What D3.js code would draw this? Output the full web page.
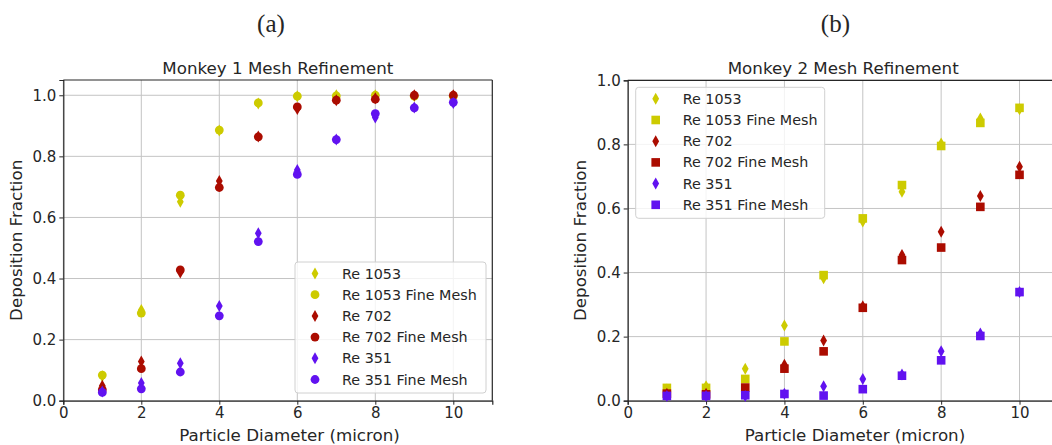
<!DOCTYPE html>
<html>
<head>
<meta charset="utf-8">
<script src="https://cdn.jsdelivr.net/npm/d3@7"></script>
<style>
  body { margin: 0; background: #fff; }
  text { font-family: "DejaVu Sans", sans-serif; fill: #262626; }
  .domain { stroke: #262626; }
</style>
</head>
<body>
<svg id="fig" width="1052" height="445"></svg>
<script>
/* data */
var diameters = [1, 2, 3, 4, 5, 6, 7, 8, 9, 10];
var xTicks = [0, 2, 4, 6, 8, 10];
var yTicks = [0, 0.2, 0.4, 0.6, 0.8, 1.0];

// Monkey 1
var m1_re1053 = [0.080, 0.297, 0.651, 0.885, 0.973, 0.997, 1.000, 1.000, 0.998, 0.998];
var m1_re1053_fine = [0.084, 0.287, 0.673, 0.886, 0.975, 0.997, 0.998, 1.000, 0.997, 0.997];
var m1_re702 = [0.049, 0.128, 0.420, 0.719, 0.865, 0.955, 0.984, 0.990, 1.000, 1.000];
var m1_re702_fine = [0.036, 0.105, 0.428, 0.698, 0.864, 0.962, 0.984, 0.987, 1.000, 1.000];
var m1_re351 = [0.030, 0.058, 0.123, 0.310, 0.548, 0.755, 0.855, 0.927, 0.960, 0.975];
var m1_re351_fine = [0.027, 0.039, 0.094, 0.278, 0.521, 0.741, 0.855, 0.940, 0.959, 0.977];

// Monkey 2
var m2_re1053 = [0.035, 0.045, 0.100, 0.235, 0.382, 0.559, 0.652, 0.803, 0.881, 0.910];
var m2_re1053_fine = [0.040, 0.040, 0.068, 0.185, 0.392, 0.569, 0.673, 0.795, 0.867, 0.914];
var m2_re702 = [0.022, 0.022, 0.030, 0.112, 0.188, 0.295, 0.455, 0.527, 0.639, 0.730];
var m2_re702_fine = [0.022, 0.020, 0.041, 0.100, 0.154, 0.290, 0.439, 0.478, 0.605, 0.705];
var m2_re351 = [0.015, 0.015, 0.015, 0.022, 0.045, 0.068, 0.082, 0.154, 0.210, 0.339];
var m2_re351_fine = [0.015, 0.015, 0.017, 0.021, 0.016, 0.036, 0.078, 0.126, 0.202, 0.339];

var names = ["Re 1053", "Re 1053 Fine Mesh", "Re 702", "Re 702 Fine Mesh", "Re 351", "Re 351 Fine Mesh"];
var colors = ["#cdcb00", "#ab0c00", "#6112f0"];

var svg = d3.select("#fig");

// marker shapes
function marker(g, shape, color) {
  if (shape == "d") {
    g.append("path").attr("d", "M0,-6 L3.4,0 L0,6 L-3.4,0 Z").attr("fill", color);
  } else if (shape == "o") {
    g.append("circle").attr("r", 4.4).attr("fill", color);
  } else {
    g.append("rect").attr("x", -4.3).attr("y", -4.3).attr("width", 8.6).attr("height", 8.6).attr("fill", color);
  }
}

function drawPanel(p) {
  var g = svg.append("g").attr("transform", "translate(" + p.left + "," + p.top + ")");
  var x = d3.scaleLinear().domain([0, 11]).range([0, p.width]);
  var y = d3.scaleLinear().domain([0, p.ymax]).range([p.height, 0]);

  // grid
  g.append("g").selectAll("line").data(xTicks).enter().append("line")
    .attr("x1", d => x(d)).attr("x2", d => x(d)).attr("y1", 0).attr("y2", p.height)
    .attr("stroke", "#c4c4c4").attr("stroke-width", 1);
  g.append("g").selectAll("line").data(yTicks).enter().append("line")
    .attr("x1", 0).attr("x2", p.width).attr("y1", d => y(d)).attr("y2", d => y(d))
    .attr("stroke", "#c4c4c4").attr("stroke-width", 1);

  // axes
  var xa = g.append("g").attr("transform", "translate(0," + p.height + ")")
    .call(d3.axisBottom(x).tickValues(xTicks).tickSize(4).tickPadding(3).tickFormat(d3.format("d")));
  var ya = g.append("g")
    .call(d3.axisLeft(y).tickValues(yTicks).tickSize(4).tickPadding(3).tickFormat(d3.format(".1f")));
  [xa, ya].forEach(function(a) {
    a.selectAll("text").style("font-size", "15px").attr("fill", "#262626");
    a.selectAll("line").attr("stroke", "#262626");
    a.select(".domain").attr("stroke-width", 1.2);
  });
  // top / right spines
  g.append("line").attr("x1", 0).attr("x2", p.width).attr("y1", 0).attr("y2", 0)
    .attr("stroke", "#262626").attr("stroke-width", 1.2);
  g.append("line").attr("x1", p.width).attr("x2", p.width).attr("y1", 0).attr("y2", p.height)
    .attr("stroke", "#262626").attr("stroke-width", 1.2);

  // points
  for (var s = 0; s < 6; s++) {
    var shape = s % 2 == 0 ? "d" : p.fine;
    var color = colors[Math.floor(s / 2)];
    p.series[s].forEach(function(v, i) {
      var m = g.append("g").attr("transform", "translate(" + x(diameters[i]) + "," + y(v) + ")");
      marker(m, shape, color);
    });
  }

  // labels
  g.append("text").attr("x", p.width / 2).attr("y", -6).attr("text-anchor", "middle")
    .style("font-size", "16.7px").text(p.title);
  g.append("text").attr("x", 271 - 63.3).attr("y", -48).attr("text-anchor", "middle")
    .style("font-family", "'Liberation Serif', serif").style("font-size", "25px").text(p.tag);
  g.append("text").attr("x", 5.8 * (p.width / 11)).attr("y", p.height + 40.5).attr("text-anchor", "middle")
    .style("font-size", "16.7px").text("Particle Diameter (micron)");
  g.append("text").attr("transform", "translate(-41.5," + (p.height / 2) + ") rotate(-90)")
    .attr("text-anchor", "middle").style("font-size", "16.7px").text("Deposition Fraction");

  // legend
  var lg = g.append("g").attr("transform", "translate(" + p.legX + "," + p.legY + ")");
  lg.append("rect").attr("width", p.legW).attr("height", 131).attr("rx", 3)
    .attr("fill", "#fff").attr("fill-opacity", 0.8).attr("stroke", "#d0d0d0");
  names.forEach(function(n, s) {
    var shape = s % 2 == 0 ? "d" : p.fine;
    var m = lg.append("g").attr("transform", "translate(20," + (11.5 + s * 21.2) + ")");
    marker(m, shape, colors[Math.floor(s / 2)]);
    lg.append("text").attr("x", 47).attr("y", 11.5 + s * 21.2 + 5).style("font-size", "14.3px").text(n);
  });
}

drawPanel({
  left: 63.3, top: 80, width: 429, height: 320.7, ymax: 1.05, fine: "o",
  title: "Monkey 1 Mesh Refinement", tag: "(a)",
  series: [m1_re1053, m1_re1053_fine, m1_re702, m1_re702_fine, m1_re351, m1_re351_fine],
  legX: 295 - 63.3, legY: 262 - 80, legW: 191
});

drawPanel({
  left: 627.7, top: 80.3, width: 431, height: 320.4, ymax: 1.0, fine: "s",
  title: "Monkey 2 Mesh Refinement", tag: "(b)",
  series: [m2_re1053, m2_re1053_fine, m2_re702, m2_re702_fine, m2_re351, m2_re351_fine],
  legX: 635.7 - 627.7, legY: 87.3 - 80.3, legW: 189
});
</script>
</body>
</html>
